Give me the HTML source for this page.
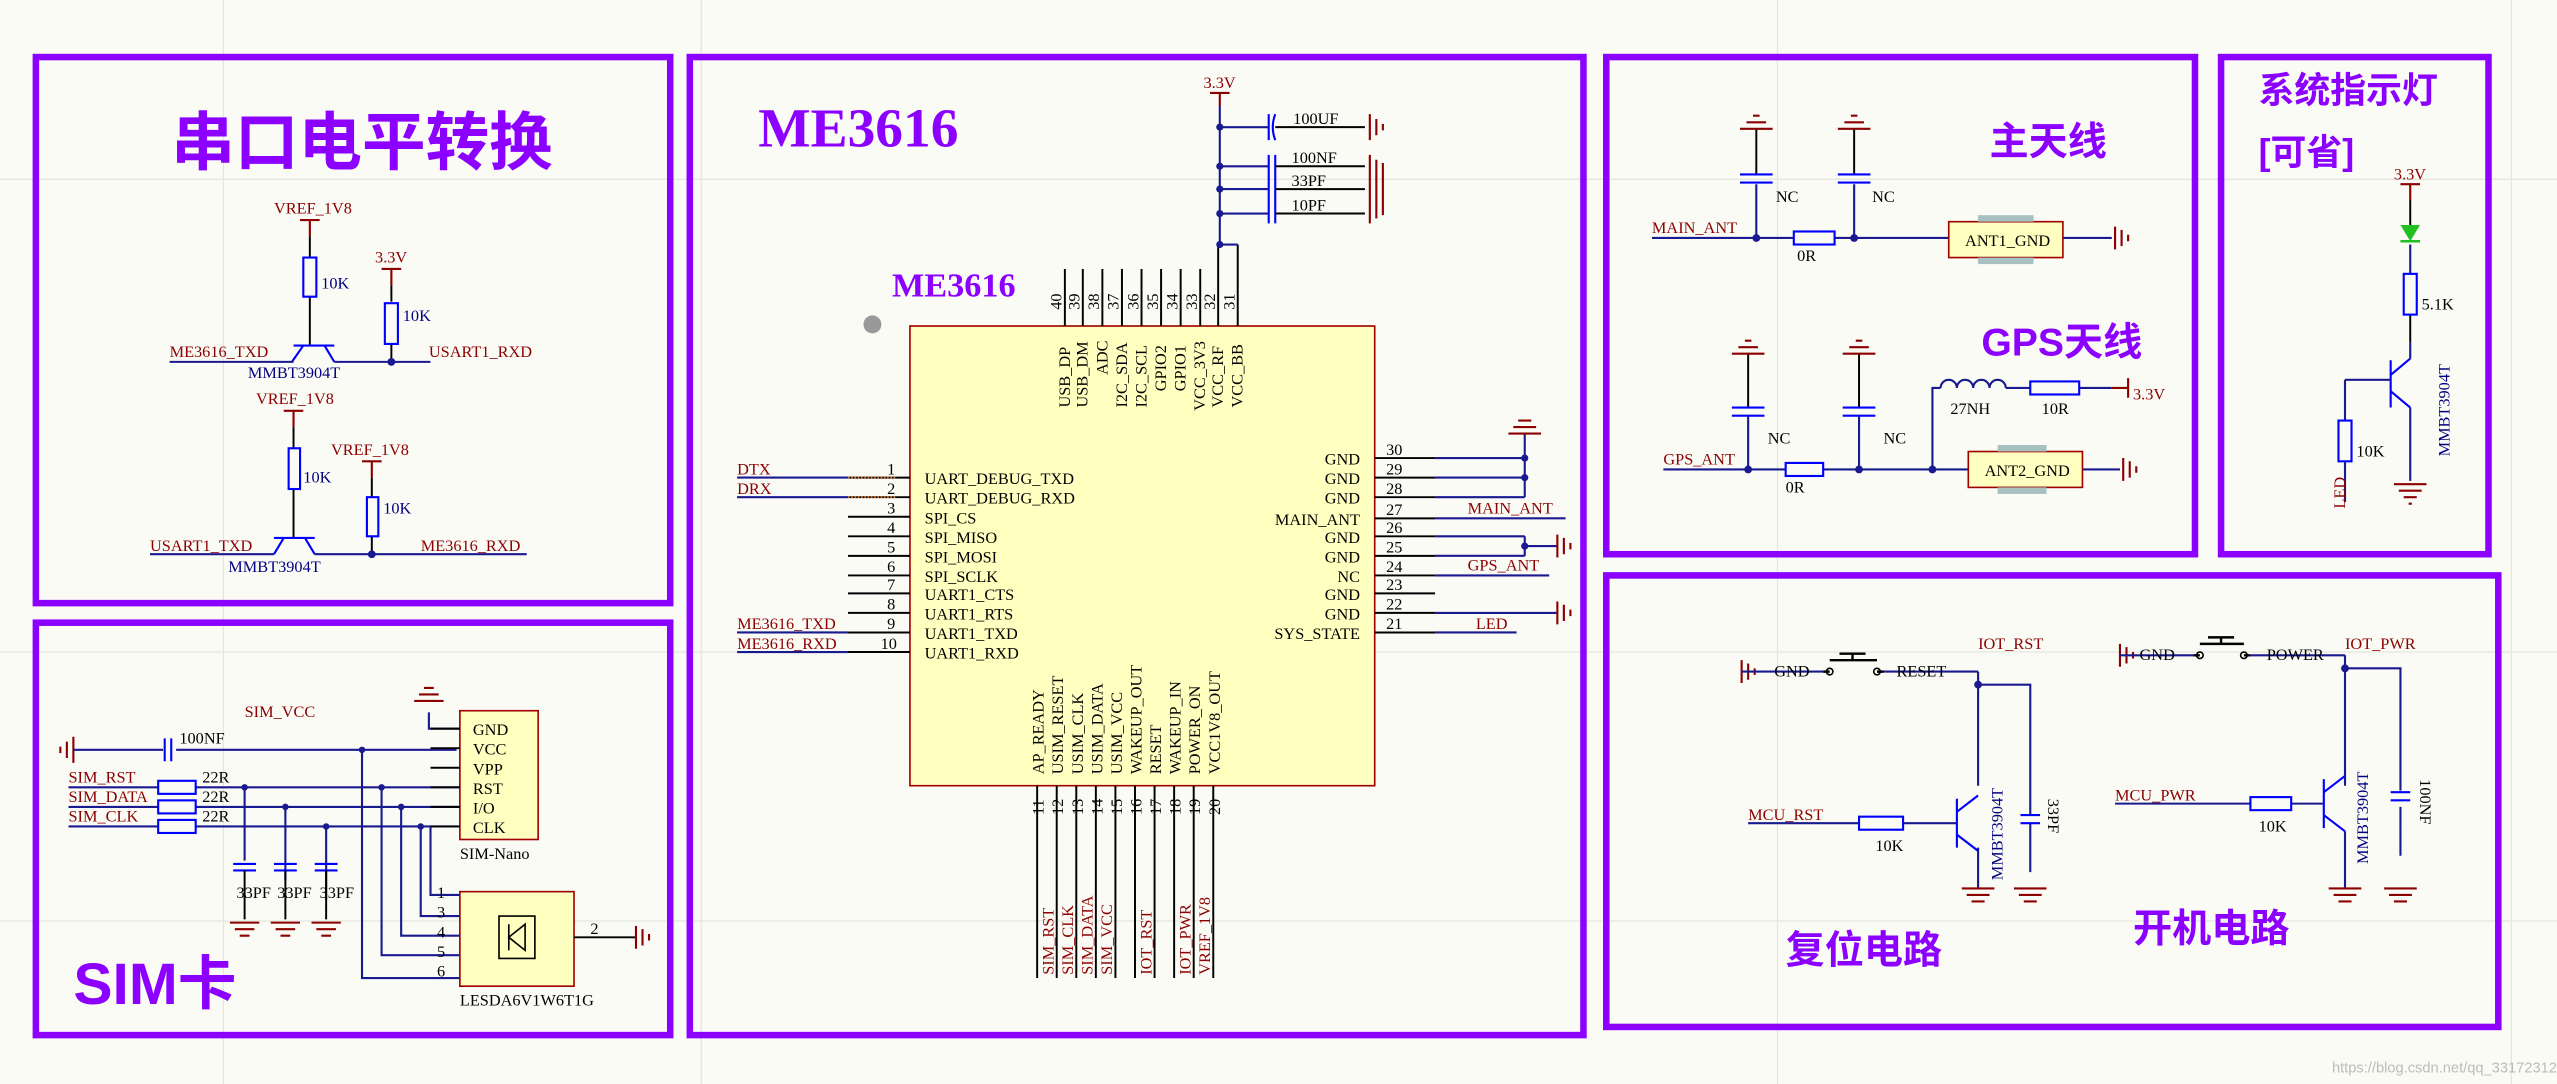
<!DOCTYPE html>
<html><head><meta charset="utf-8"><style>
html,body{margin:0;padding:0;background:#fbfbf6}
svg{display:block}
.t{font-family:"Liberation Serif",serif;font-size:10px}
.r{fill:#8b0000}.b{fill:#000080}.k{fill:#000}
.h{font-family:"Liberation Sans","Noto Sans CJK SC",sans-serif;font-weight:bold;fill:#8b00ff}
.w{stroke:#1a1a90;stroke-width:1.3;fill:none}
.p{stroke:#000;stroke-width:1.2;fill:none}
.c{stroke:#0000ff;stroke-width:1.3;fill:none}
.g{stroke:#8b0000;stroke-width:1.3;fill:none}
.box{fill:none;stroke:#8b00ff;stroke-width:4}
</style></head><body>
<svg width="2557" height="1084" viewBox="0 0 1568 665" preserveAspectRatio="none" xmlns="http://www.w3.org/2000/svg">
<rect width="1568" height="665" fill="#fbfbf6"/>
<g stroke="#e6e6e0" stroke-width="0.8">
<line x1="0" y1="110" x2="1568" y2="110"/><line x1="0" y1="400" x2="1568" y2="400"/><line x1="0" y1="565" x2="1568" y2="565"/>
<line x1="137" y1="0" x2="137" y2="665"/><line x1="430" y1="0" x2="430" y2="665"/><line x1="1090" y1="0" x2="1090" y2="665"/><line x1="1540" y1="0" x2="1540" y2="665"/>
</g>
<rect class="box" x="22" y="35" width="389" height="335"/>
<rect class="box" x="423" y="35" width="548" height="600"/>
<rect class="box" x="985" y="35" width="361" height="305"/>
<rect class="box" x="1362" y="35" width="164" height="305"/>
<rect class="box" x="22" y="382" width="389" height="253"/>
<rect class="box" x="985" y="353" width="547" height="277"/>

<text class="h" x="105" y="101" font-size="39">串口电平转换</text>
<text x="465" y="90" font-size="34" font-family="Liberation Serif,serif" font-weight="bold" fill="#8b00ff">ME3616</text>
<text x="547" y="182" font-size="21" font-family="Liberation Serif,serif" font-weight="bold" fill="#8b00ff">ME3616</text>
<text class="h" x="1220" y="95" font-size="24">主天线</text>
<text class="h" x="1215" y="218" font-size="24">GPS天线</text>
<text class="h" x="1385" y="63" font-size="22">系统指示灯</text>
<text class="h" x="1385" y="101" font-size="22">[可省]</text>
<text class="h" x="45" y="616" font-size="36">SIM卡</text>
<text class="h" x="1095" y="591" font-size="24">复位电路</text>
<text class="h" x="1308" y="578" font-size="24">开机电路</text>

<g>
<text class="t r" x="168" y="131">VREF_1V8</text>
<path class="g" d="M184 135h12M190 135v10"/><path class="p" d="M190 145v13M190 182v30"/>
<rect class="c" x="186" y="158" width="8" height="24"/><text class="t b" x="197" y="177">10K</text>
<path class="c" d="M180 212h25M186 212l-7 10M199 212l6 10"/>
<path class="w" d="M104 222h76M205 222h59"/>
<text class="t r" x="104" y="219">ME3616_TXD</text>
<text class="t b" x="152" y="232">MMBT3904T</text>
<text class="t r" x="230" y="161">3.3V</text>
<path class="g" d="M234 165h12M240 165v10"/><path class="p" d="M240 175v10M240 211v11"/>
<rect class="c" x="236" y="186" width="8" height="25"/><text class="t b" x="247" y="197">10K</text>
<circle cx="240" cy="222" r="2.4" fill="#1a1a90"/>
<text class="t r" x="263" y="219">USART1_RXD</text>

<text class="t r" x="157" y="248">VREF_1V8</text>
<path class="g" d="M174 252h12M180 252v10"/><path class="p" d="M180 262v13M180 300v30"/>
<rect class="c" x="177" y="275" width="7" height="25"/><text class="t b" x="186" y="296">10K</text>
<path class="c" d="M168 330h25M174 330l-6 10M187 330l6 10"/>
<path class="w" d="M92 340h76M193 340h130"/>
<text class="t r" x="92" y="338">USART1_TXD</text>
<text class="t b" x="140" y="351">MMBT3904T</text>
<text class="t r" x="203" y="279">VREF_1V8</text>
<path class="g" d="M222 283h12M228 283v10"/><path class="p" d="M228 293v12M228 329v11"/>
<rect class="c" x="225" y="305" width="7" height="24"/><text class="t b" x="235" y="315">10K</text>
<circle cx="228" cy="340" r="2.4" fill="#1a1a90"/>
<text class="t r" x="258" y="338">ME3616_RXD</text>
</g>

<rect x="558" y="200" width="285" height="282" fill="#ffffc0" stroke="#a00000" stroke-width="1"/>
<circle cx="535" cy="199" r="5.5" fill="#999"/>
<g class="p">
<path d="M653 165v35M664 165v35M676 165v35M688 165v35M700 165v35M712 165v35M724 165v35M736 165v35M747 150v50M759 150v50"/>
<path d="M636 482v118M648 482v118M660 482v118M672 482v118M684 482v118M696 482v118M708 482v118M720 482v118M732 482v118M744 482v118"/>
<path d="M520 293h38M520 305h38M520 317h38M520 329h38M520 341h38M520 353h38M520 364h38M520 376h38M520 388h38M520 400h38"/>
<path d="M843 281h37M843 293h37M843 305h37M843 318h37M843 329h37M843 341h37M843 353h37M843 364h37M843 376h37M843 388h37"/>
</g>
<g class="t k" font-size="9">
<g transform="translate(651,190) rotate(-90)"><text>40</text></g>
<g transform="translate(662,190) rotate(-90)"><text>39</text></g>
<g transform="translate(674,190) rotate(-90)"><text>38</text></g>
<g transform="translate(686,190) rotate(-90)"><text>37</text></g>
<g transform="translate(698,190) rotate(-90)"><text>36</text></g>
<g transform="translate(710,190) rotate(-90)"><text>35</text></g>
<g transform="translate(722,190) rotate(-90)"><text>34</text></g>
<g transform="translate(734,190) rotate(-90)"><text>33</text></g>
<g transform="translate(745,190) rotate(-90)"><text>32</text></g>
<g transform="translate(757,190) rotate(-90)"><text>31</text></g>
<g transform="translate(656,250) rotate(-90)"><text>USB_DP</text></g>
<g transform="translate(667,250) rotate(-90)"><text>USB_DM</text></g>
<g transform="translate(679,230) rotate(-90)"><text>ADC</text></g>
<g transform="translate(691,250) rotate(-90)"><text>I2C_SDA</text></g>
<g transform="translate(703,250) rotate(-90)"><text>I2C_SCL</text></g>
<g transform="translate(715,240) rotate(-90)"><text>GPIO2</text></g>
<g transform="translate(727,240) rotate(-90)"><text>GPIO1</text></g>
<g transform="translate(739,252) rotate(-90)"><text>VCC_3V3</text></g>
<g transform="translate(750,250) rotate(-90)"><text>VCC_RF</text></g>
<g transform="translate(762,250) rotate(-90)"><text>VCC_BB</text></g>
<g transform="translate(640,500) rotate(-90)"><text>11</text></g>
<g transform="translate(652,500) rotate(-90)"><text>12</text></g>
<g transform="translate(664,500) rotate(-90)"><text>13</text></g>
<g transform="translate(676,500) rotate(-90)"><text>14</text></g>
<g transform="translate(688,500) rotate(-90)"><text>15</text></g>
<g transform="translate(700,500) rotate(-90)"><text>16</text></g>
<g transform="translate(712,500) rotate(-90)"><text>17</text></g>
<g transform="translate(724,500) rotate(-90)"><text>18</text></g>
<g transform="translate(736,500) rotate(-90)"><text>19</text></g>
<g transform="translate(748,500) rotate(-90)"><text>20</text></g>
<g transform="translate(640,475) rotate(-90)"><text>AP_READY</text></g>
<g transform="translate(652,475) rotate(-90)"><text>USIM_RESET</text></g>
<g transform="translate(664,475) rotate(-90)"><text>USIM_CLK</text></g>
<g transform="translate(676,475) rotate(-90)"><text>USIM_DATA</text></g>
<g transform="translate(688,475) rotate(-90)"><text>USIM_VCC</text></g>
<g transform="translate(700,475) rotate(-90)"><text>WAKEUP_OUT</text></g>
<g transform="translate(712,475) rotate(-90)"><text>RESET</text></g>
<g transform="translate(724,475) rotate(-90)"><text>WAKEUP_IN</text></g>
<g transform="translate(736,475) rotate(-90)"><text>POWER_ON</text></g>
<g transform="translate(748,475) rotate(-90)"><text>VCC1V8_OUT</text></g>
</g>
<g class="t k">
<text x="544" y="291">1</text><text x="544" y="303">2</text><text x="544" y="315">3</text><text x="544" y="327">4</text><text x="544" y="339">5</text><text x="544" y="351">6</text><text x="544" y="362">7</text><text x="544" y="374">8</text><text x="544" y="386">9</text><text x="540" y="398">10</text>
<text x="567" y="297">UART_DEBUG_TXD</text><text x="567" y="309">UART_DEBUG_RXD</text><text x="567" y="321">SPI_CS</text><text x="567" y="333">SPI_MISO</text><text x="567" y="345">SPI_MOSI</text><text x="567" y="357">SPI_SCLK</text><text x="567" y="368">UART1_CTS</text><text x="567" y="380">UART1_RTS</text><text x="567" y="392">UART1_TXD</text><text x="567" y="404">UART1_RXD</text>
<text x="850" y="279">30</text><text x="850" y="291">29</text><text x="850" y="303">28</text><text x="850" y="316">27</text><text x="850" y="327">26</text><text x="850" y="339">25</text><text x="850" y="351">24</text><text x="850" y="362">23</text><text x="850" y="374">22</text><text x="850" y="386">21</text>
<g text-anchor="end"><text x="834" y="285">GND</text><text x="834" y="297">GND</text><text x="834" y="309">GND</text><text x="834" y="322">MAIN_ANT</text><text x="834" y="333">GND</text><text x="834" y="345">GND</text><text x="834" y="357">NC</text><text x="834" y="368">GND</text><text x="834" y="380">GND</text><text x="834" y="392">SYS_STATE</text></g>
</g>
<path class="w" d="M452 293h68M452 305h68M452 388h68M452 400h68"/>
<path stroke="#e07020" stroke-width="1" d="M520 293h30M520 305h30" stroke-dasharray="1 1"/>
<g class="t r"><text x="452" y="291">DTX</text><text x="452" y="303">DRX</text><text x="452" y="386">ME3616_TXD</text><text x="452" y="398">ME3616_RXD</text></g>
<path class="w" d="M880 281h55M880 293h55M880 305h55M935 266v39M880 318h80M880 329h55M880 341h55M935 329v12M935 335h20M880 353h70M880 376h75M880 388h50"/>
<circle cx="935" cy="281" r="2.2" fill="#1a1a90"/><circle cx="935" cy="293" r="2.2" fill="#1a1a90"/><circle cx="935" cy="335" r="2.2" fill="#1a1a90"/>
<path class="g" d="M925 266h20M928 262h14M931 258h8M955 328v14M959 330v10M963 333v4M955 369v14M959 371v10M963 374v4"/>
<g class="t r"><text x="900" y="315">MAIN_ANT</text><text x="900" y="350">GPS_ANT</text><text x="905" y="386">LED</text></g>
<text class="t r" x="738" y="54">3.3V</text>
<path class="g" d="M742 57h12M748 57v8"/>
<path class="w" d="M748 65v85h11M748 78h30M748 102h30M748 116h30M748 131h30"/>
<g fill="#1a1a90"><circle cx="748" cy="78" r="2.2"/><circle cx="748" cy="102" r="2.2"/><circle cx="748" cy="116" r="2.2"/><circle cx="748" cy="131" r="2.2"/><circle cx="748" cy="150" r="2.2"/></g>
<path class="c" d="M778 70v16M782 70q-3 8 0 16M778 95v42"/>
<path class="c" d="M782 95v42"/>
<path class="p" d="M782 78h55M782 102h55M782 116h55M782 131h55"/>
<path class="g" d="M840 70v16M844 73v10M848 76v4M840 95v42M844 98v36M848 100v32"/>
<g class="t k"><text x="793" y="76">100UF</text><text x="792" y="100">100NF</text><text x="792" y="114">33PF</text><text x="792" y="129">10PF</text></g>
<g class="t r" font-size="10">
<g transform="translate(646,598) rotate(-90)"><text>SIM_RST</text></g>
<g transform="translate(658,598) rotate(-90)"><text>SIM_CLK</text></g>
<g transform="translate(670,598) rotate(-90)"><text>SIM_DATA</text></g>
<g transform="translate(682,598) rotate(-90)"><text>SIM_VCC</text></g>
<g transform="translate(706,598) rotate(-90)"><text>IOT_RST</text></g>
<g transform="translate(730,598) rotate(-90)"><text>IOT_PWR</text></g>
<g transform="translate(742,598) rotate(-90)"><text>VREF_1V8</text></g>
</g>

<path class="g" d="M45 452v16M41 455v10M37 458v4"/>
<path class="w" d="M45 460h55M108 460h172"/>
<path class="c" d="M101 453v14M105 453v14"/>
<text class="t k" x="110" y="456">100NF</text>
<text class="t r" x="150" y="440">SIM_VCC</text>
<path class="w" d="M222 460v140h60M42 483h55M120 483h162M42 495h55M120 495h162M42 507h55M120 507h162M150 483v45M175 495v45M200 507v45"/>
<path class="w" d="M234 483v103h48M246 495v79h36M258 507v55h24M264 507v42h18M263 437v10h19"/>
<g class="c"><rect x="97" y="479" width="23" height="8"/><rect x="97" y="491" width="23" height="8"/><rect x="97" y="503" width="23" height="8"/>
<path d="M143 530h14M143 534h14M168 530h14M168 534h14M193 530h14M193 534h14"/></g>
<path class="p" d="M150 534v30M175 534v30M200 534v30"/>
<path class="g" d="M141 566h18M144 570h12M147 574h6M166 566h18M169 570h12M172 574h6M191 566h18M194 570h12M197 574h6M254 430h18M257 426h12M260 422h6"/>
<g fill="#1a1a90"><circle cx="222" cy="460" r="2"/><circle cx="150" cy="483" r="2"/><circle cx="175" cy="495" r="2"/><circle cx="200" cy="507" r="2"/><circle cx="234" cy="483" r="2"/><circle cx="246" cy="495" r="2"/><circle cx="258" cy="507" r="2"/></g>
<g class="t r"><text x="42" y="480">SIM_RST</text><text x="42" y="492">SIM_DATA</text><text x="42" y="504">SIM_CLK</text></g>
<g class="t k"><text x="124" y="480">22R</text><text x="124" y="492">22R</text><text x="124" y="504">22R</text>
<text x="145" y="551">33PF</text><text x="170" y="551">33PF</text><text x="196" y="551">33PF</text></g>
<rect x="282" y="436" width="48" height="79" fill="#ffffc0" stroke="#a00000" stroke-width="1"/>
<path class="p" d="M264 447h18M264 459h18M264 471h18M264 483h18M264 495h18M264 507h18"/>
<g class="t k"><text x="290" y="451">GND</text><text x="290" y="463">VCC</text><text x="290" y="475">VPP</text><text x="290" y="487">RST</text><text x="290" y="499">I/O</text><text x="290" y="511">CLK</text><text x="282" y="527">SIM-Nano</text></g>
<rect x="282" y="547" width="70" height="58" fill="#ffffc0" stroke="#a00000" stroke-width="1"/>
<path stroke="#000" fill="none" stroke-width="1" d="M306 562h22v26h-22zM312 575l10-8v16zM312 567v16"/>
<path class="p" d="M352 575h38"/><path class="g" d="M390 568v14M394 570v10M398 573v4"/>
<g class="t k"><text x="268" y="551">1</text><text x="268" y="563">3</text><text x="268" y="575">4</text><text x="268" y="587">5</text><text x="268" y="599">6</text><text x="362" y="573">2</text><text x="282" y="617">LESDA6V1W6T1G</text></g>

<text class="t r" x="1013" y="143">MAIN_ANT</text>
<path class="w" d="M1013 146h87M1125 146h70M1265 146h30M1077 146v-33M1137 146v-33"/>
<path class="p" d="M1077 107v-28M1137 107v-28"/>
<path class="g" d="M1067 79h20M1071 75h12M1075 71h4M1127 79h20M1131 75h12M1135 71h4M1297 139v14M1301 141v10M1305 144v4"/>
<path class="c" d="M1067 107h20M1067 112h20M1127 107h20M1127 112h20"/>
<rect class="c" x="1100" y="142" width="25" height="8"/>
<g fill="#1a1a90"><circle cx="1077" cy="146" r="2.4"/><circle cx="1137" cy="146" r="2.4"/></g>
<rect x="1195" y="136" width="70" height="22" fill="#ffffc0" stroke="#a00000" stroke-width="1"/>
<rect x="1213" y="132" width="34" height="4" fill="#a8c0c0"/><rect x="1213" y="158" width="34" height="4" fill="#a8c0c0"/>
<g class="t k"><text x="1089" y="124">NC</text><text x="1148" y="124">NC</text><text x="1102" y="160">0R</text><text x="1205" y="151">ANT1_GND</text></g>

<text class="t r" x="1020" y="285">GPS_ANT</text>
<path class="w" d="M1020 288h75M1118 288h89M1277 288h23M1072 288v-33M1140 288v-33M1185 288v-50h5M1230 238h15M1275 238h20"/>
<path class="p" d="M1072 250v-33M1140 250v-33"/>
<path class="g" d="M1062 217h20M1066 213h12M1070 209h4M1130 217h20M1134 213h12M1138 209h4M1302 281v14M1306 283v10M1310 286v4M1295 238h10M1305 232v12"/>
<path class="c" d="M1062 250h20M1062 255h20M1130 250h20M1130 255h20"/>
<path fill="none" stroke="#1a1a90" stroke-width="1.3" d="M1190 238a5 5 0 0 1 10 0a5 5 0 0 1 10 0a5 5 0 0 1 10 0a5 5 0 0 1 10 0"/>
<rect class="c" x="1095" y="284" width="23" height="8"/><rect class="c" x="1245" y="234" width="30" height="8"/>
<g fill="#1a1a90"><circle cx="1072" cy="288" r="2.4"/><circle cx="1140" cy="288" r="2.4"/><circle cx="1185" cy="288" r="2.4"/></g>
<rect x="1207" y="277" width="70" height="22" fill="#ffffc0" stroke="#a00000" stroke-width="1"/>
<rect x="1225" y="273" width="30" height="4" fill="#a8c0c0"/><rect x="1225" y="299" width="30" height="4" fill="#a8c0c0"/>
<g class="t k"><text x="1084" y="272">NC</text><text x="1155" y="272">NC</text><text x="1095" y="302">0R</text><text x="1217" y="292">ANT2_GND</text><text x="1196" y="254">27NH</text><text x="1252" y="254">10R</text><text x="1308" y="245" class="t r">3.3V</text></g>

<text class="t r" x="1468" y="110">3.3V</text>
<path class="g" d="M1472 113h12M1478 113v10"/>
<path class="p" d="M1478 123v15M1478 193v17"/>
<path fill="#20c020" d="M1472 138h12l-6 10z"/><path stroke="#20c020" stroke-width="1.5" d="M1472 148h12"/>
<path class="w" d="M1478 150v18"/>
<rect class="c" x="1474" y="168" width="8" height="25"/><text class="t k" x="1485" y="190">5.1K</text>
<path class="c" d="M1466 221v29M1466 230l12-10M1466 240l12 10"/>
<path class="w" d="M1478 210v10M1478 250v45M1438 233h28M1438 233v25M1438 283v25"/>
<rect class="c" x="1434" y="258" width="8" height="25"/><text class="t k" x="1445" y="280">10K</text>
<path class="g" d="M1468 297h20M1471 301h14M1474 305h8M1477 309h2"/>
<g class="t r" transform="translate(1438,312) rotate(-90)"><text>LED</text></g>
<g class="t b" transform="translate(1502,280) rotate(-90)"><text>MMBT3904T</text></g>

<path class="g" d="M1068 405v14M1072 407v10M1076 410v4"/>
<path class="w" d="M1068 412h50M1155 412h58M1213 412v70M1213 420h32v80M1245 505v30M1072 505h68M1167 505h33M1213 520v25"/>
<path stroke="#000" stroke-width="1.5" fill="none" d="M1118 412h4M1151 412h4M1122 405h29M1136 405v-4M1128 401h16"/>
<circle cx="1122" cy="412" r="2" fill="none" stroke="#000"/><circle cx="1151" cy="412" r="2" fill="none" stroke="#000"/>
<rect class="c" x="1140" y="501" width="27" height="8"/>
<path class="c" d="M1200 490v30M1200 498l13-10M1200 512l13 10M1239 500h12M1239 505h12"/>
<path class="g" d="M1203 545h20M1206 549h14M1209 553h8M1235 545h20M1238 549h14M1241 553h8"/>
<circle cx="1213" cy="420" r="2.4" fill="#1a1a90"/>
<g class="t k"><text x="1088" y="415">GND</text><text x="1163" y="415">RESET</text><text x="1150" y="522">10K</text></g>
<g class="t r"><text x="1213" y="398">IOT_RST</text><text x="1072" y="503">MCU_RST</text></g>
<g class="t b" transform="translate(1228,540) rotate(-90)"><text>MMBT3904T</text></g>
<g class="t k" transform="translate(1256,490) rotate(90)"><text>33PF</text></g>

<path class="g" d="M1300 395v14M1304 397v10M1308 400v4"/>
<path class="w" d="M1300 402h45M1380 402h58M1438 402v80M1438 410h34v75M1472 495v30M1297 493h83M1405 493h20M1438 510v35"/>
<path stroke="#000" stroke-width="1.5" fill="none" d="M1345 402h4M1376 402h4M1349 395h27M1362 395v-4M1354 391h16"/>
<circle cx="1349" cy="402" r="2" fill="none" stroke="#000"/><circle cx="1376" cy="402" r="2" fill="none" stroke="#000"/>
<rect class="c" x="1380" y="489" width="25" height="8"/>
<path class="c" d="M1425 478v30M1425 486l13-10M1425 500l13 10M1466 486h12M1466 491h12"/>
<path class="g" d="M1428 545h20M1431 549h14M1434 553h8M1462 545h20M1465 549h14M1468 553h8"/>
<circle cx="1438" cy="410" r="2.4" fill="#1a1a90"/>
<g class="t k"><text x="1312" y="405">GND</text><text x="1390" y="405">POWER</text><text x="1385" y="510">10K</text></g>
<g class="t r"><text x="1438" y="398">IOT_PWR</text><text x="1297" y="491">MCU_PWR</text></g>
<g class="t b" transform="translate(1452,530) rotate(-90)"><text>MMBT3904T</text></g>
<g class="t k" transform="translate(1484,478) rotate(90)"><text>100NF</text></g>
<text x="1430" y="658" font-family="Liberation Sans,sans-serif" font-size="9" fill="#bbb">https://blog.csdn.net/qq_33172312</text>
</svg>
</body></html>
